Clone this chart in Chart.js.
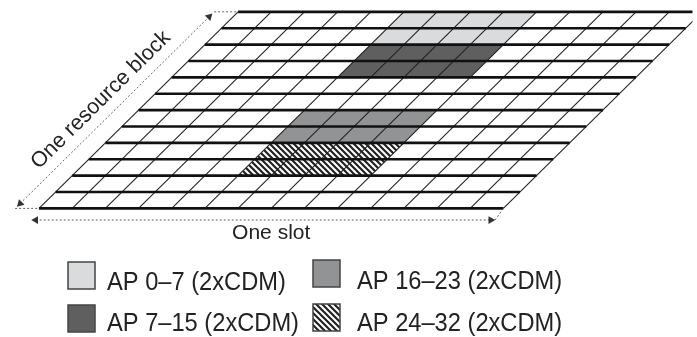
<!DOCTYPE html>
<html>
<head>
<meta charset="utf-8">
<script src="https://cdn.jsdelivr.net/npm/chart.js@4.4.1/dist/chart.umd.min.js"></script>
<style>
  html, body { margin: 0; padding: 0; background: #fff; }
  canvas { display: block; }
</style>
</head>
<body>
<canvas id="grid" width="697" height="337"></canvas>
<script>
// resource grid: 14 OFDM symbols x 12 subcarriers
const symbols = 14;
const subcarriers = 12;
const slotLabel = "One slot";
const blockLabel = "One resource block";

// DMRS groups, subcarriers counted from the bottom of the grid
const groupNames = ["AP 0–7 (2xCDM)", "AP 7–15 (2xCDM)", "AP 16–23 (2xCDM)", "AP 24–32 (2xCDM)"];
const groupSymbolFrom = [5, 5, 5, 5];
const groupSymbolTo = [9, 9, 9, 9];
const groupScFrom = [10, 8, 4, 2];
const groupScTo = [12, 10, 6, 4];
const groupColors = ["#dadbdd", "#5f5f60", "#929395", "hatch"];

const skew = 0.5; // grid drawn as a parallelogram
const pt = (s, k) => ({ x: s + k * skew, y: k });

const makeHatch = () => {
  const c = document.createElement("canvas");
  c.width = 6;
  c.height = 6;
  const g = c.getContext("2d");
  g.fillStyle = "#fff";
  g.fillRect(0, 0, 6, 6);
  g.strokeStyle = "#222";
  g.lineWidth = 2.2;
  g.beginPath();
  g.moveTo(-1, -1); g.lineTo(7, 7);
  g.moveTo(-1, 5); g.lineTo(1, 7);
  g.moveTo(5, -1); g.lineTo(7, 1);
  g.stroke();
  return document.getElementById("grid").getContext("2d").createPattern(c, "repeat");
};
const hatch = makeHatch();
const fillFor = (i) => groupColors[i] === "hatch" ? hatch : groupColors[i];

const datasets = [];
groupNames.forEach((name, i) => {
  datasets.push({
    label: name,
    data: [
      pt(groupSymbolFrom[i], groupScFrom[i]),
      pt(groupSymbolTo[i], groupScFrom[i]),
      pt(groupSymbolTo[i], groupScTo[i]),
      pt(groupSymbolFrom[i], groupScTo[i])
    ],
    fill: "shape",
    backgroundColor: fillFor(i),
    borderColor: "transparent",
    borderWidth: 0,
    order: 3
  });
});
for (let s = 0; s <= symbols; s++) {
  datasets.push({ data: [pt(s, 0), pt(s, subcarriers)], borderColor: "#222", borderWidth: 1.1, order: 2 });
}
for (let k = 0; k <= subcarriers; k++) {
  datasets.push({ data: [pt(0, k), pt(symbols, k)], borderColor: "#111", borderWidth: 2.6, order: 1 });
}

// dotted arrows
const dotted = { borderColor: "#666", borderWidth: 1, borderDash: [2, 2], order: 0 };
const arrow = (from, to, rotFrom, rotTo) => Object.assign({}, dotted, {
  data: [from, to],
  pointStyle: "triangle",
  pointRadius: 4.5,
  pointRotation: [rotFrom, rotTo],
  pointBackgroundColor: "#333",
  pointBorderWidth: 0
});
const rbOffset = -0.72;
const slotLevel = -0.71;
datasets.push(arrow(pt(rbOffset, 0.3), pt(rbOffset, 11.7), 225, 45));
datasets.push(Object.assign({}, dotted, { data: [pt(rbOffset, 0), pt(0, 0)] }));
datasets.push(Object.assign({}, dotted, { data: [pt(rbOffset, subcarriers), pt(0, subcarriers)] }));
datasets.push(arrow({ x: -0.1, y: slotLevel }, { x: 13.62, y: slotLevel }, 270, 90));
datasets.push(Object.assign({}, dotted, { data: [{ x: 13.75, y: slotLevel }, pt(symbols, 0)] }));

const labels = {
  id: "labels",
  afterDraw(chart) {
    const ctx = chart.ctx;
    const xs = chart.scales.x;
    const ys = chart.scales.y;
    const px = (p) => [xs.getPixelForValue(p.x), ys.getPixelForValue(p.y)];
    ctx.save();
    ctx.fillStyle = "#222";
    ctx.font = "21px 'Liberation Sans', Arial, sans-serif";
    ctx.textAlign = "center";
    ctx.textBaseline = "alphabetic";
    ctx.fillText(slotLabel, xs.getPixelForValue(symbols / 2), ys.getPixelForValue(-1.87));

    const [ax, ay] = px(pt(0, 0));
    const [bx, by] = px(pt(0, subcarriers));
    const [cx, cy] = px(pt(-1.51, 6.68));
    ctx.translate(cx, cy);
    ctx.rotate(Math.atan2(by - ay, bx - ax));
    ctx.font = "21.5px 'Liberation Sans', Arial, sans-serif";
    ctx.fillText(blockLabel, 0, 7.5);
    ctx.restore();

    // legend, two columns
    const boxX = [68, 68, 313, 313];
    const boxY = [262, 305, 260, 304];
    const textX = [107, 107, 357, 357];
    const textY = [290, 331, 288.5, 331];
    ctx.save();
    groupNames.forEach((name, i) => {
      ctx.fillStyle = fillFor(i);
      ctx.fillRect(boxX[i], boxY[i], 27, 27);
      ctx.strokeStyle = "#444";
      ctx.lineWidth = 1.5;
      ctx.strokeRect(boxX[i], boxY[i], 27, 27);
      ctx.save();
      ctx.translate(textX[i], textY[i]);
      ctx.scale(0.91, 1);
      ctx.fillStyle = "#222";
      ctx.font = "26px 'Liberation Sans', Arial, sans-serif";
      ctx.textAlign = "left";
      ctx.fillText(name, 0, 0);
      ctx.restore();
    });
    ctx.restore();
  }
};

new Chart(document.getElementById("grid"), {
  type: "line",
  data: { datasets },
  options: {
    responsive: false,
    devicePixelRatio: 1,
    animation: false,
    events: [],
    layout: { padding: 0 },
    elements: { point: { radius: 0 }, line: { tension: 0 } },
    scales: {
      x: { type: "linear", display: false, min: -35 / 33.6, max: (697 - 35) / 33.6 },
      y: { type: "linear", display: false, min: (209.5 - 337) / 16.83, max: 209.5 / 16.83 }
    },
    plugins: { legend: { display: false }, tooltip: { enabled: false } }
  },
  plugins: [labels]
});
</script>
</body>
</html>
